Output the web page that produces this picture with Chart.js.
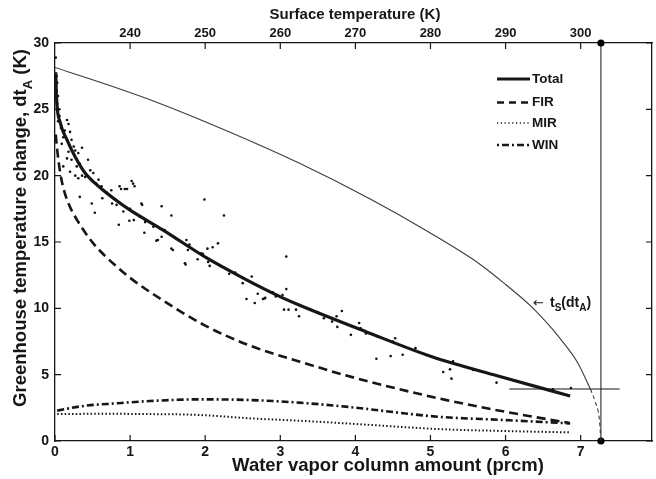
<!DOCTYPE html>
<html><head><meta charset="utf-8">
<script src="https://cdn.jsdelivr.net/npm/chart.js@4"></script>
<style>html,body{margin:0;padding:0;background:#fff}</style>
</head><body>
<canvas id="c" width="656" height="479"></canvas>
<script>
// ---------- data ----------
const xTickValues   = [0, 1, 2, 3, 4, 5, 6, 7];
const topTickValues = [240, 250, 260, 270, 280, 290, 300];
const yTickValues   = [0, 5, 10, 15, 20, 25, 30];
const TOP_AT_ZERO = 230;      // surface temperature at 0 prcm (top axis)
const TOP_PER_UNIT = 10;      // K per prcm on the top axis
const X_MIN = 0, X_MAX = 7.95, Y_MIN = 0, Y_MAX = 30;

// t_S(dt_A) curve (thin line) and its dashed end
const tsX = [0, 0.7, 1.37, 2.3, 3.25, 4.21, 4.93, 5.64, 6.0, 6.34, 6.63, 6.73, 6.96, 7.13];
const tsY = [28.15, 26.85, 25.5, 23.35, 20.95, 18.2, 15.9, 13.4, 11.8, 10.15, 8.4, 7.7, 5.9, 3.92];
const tsDashX = [7.13, 7.19, 7.25, 7.27];
const tsDashY = [3.92, 3.0, 1.6, 0];

// Total
const totX = [0.01, 0.02, 0.07, 0.16, 0.27, 0.4, 0.58, 0.8, 1.0, 1.44, 2.02, 2.5, 2.99, 3.25, 4.14, 5.02, 5.9, 6.86];
const totY = [27.8, 25.9, 24.0, 22.7, 21.4, 20.2, 19.2, 18.2, 17.4, 15.9, 13.8, 12.3, 10.9, 10.25, 8.24, 6.35, 4.9, 3.39];
// FIR
const firX = [0.01, 0.03, 0.07, 0.11, 0.18, 0.3, 0.51, 0.83, 1.0, 1.3, 2.0, 2.59, 3.25, 4.0, 5.2, 6.0, 6.85];
const firY = [23.1, 21.9, 20.2, 19.1, 17.9, 16.6, 14.9, 13.1, 12.3, 11.1, 8.7, 7.2, 6.0, 4.75, 3.1, 2.2, 1.36];
// MIR
const mirX = [0.03, 0.6, 1.26, 1.93, 2.59, 3.25, 3.87, 4.5, 5.1, 6.0, 6.86];
const mirY = [2.03, 2.05, 2.03, 1.96, 1.71, 1.53, 1.33, 1.1, 0.9, 0.75, 0.65];
// WIN
const winX = [0.03, 0.38, 0.82, 1.26, 1.93, 2.59, 3.25, 3.87, 5.1, 5.99, 6.86];
const winY = [2.29, 2.64, 2.84, 3.01, 3.14, 3.09, 2.89, 2.59, 1.83, 1.58, 1.33];

// scattered observations
const obsX = [0.01,0.02,0.03,0.02,0.04,0.03,0.05,0.06,0.04,0.08,
  0.16,0.18,0.13,0.2,0.11,0.22,0.09,0.25,0.27,0.18,0.31,0.36,0.16,0.11,0.22,0.2,0.29,0.33,0.27,0.36,
  0.31,0.4,0.44,0.47,0.51,0.55,0.58,0.62,0.33,0.49,0.53,0.69,0.75,0.8,0.86,0.93,1.04,1.06,1.15,1.0,
  0.91,0.82,0.63,0.76,0.85,0.99,0.96,0.88,1.02,1.16,1.42,1.55,1.99,2.25,1.05,1.13,1.19,1.31,1.37,1.42,
  1.46,1.55,1.57,1.75,1.79,1.77,1.95,1.9,2.04,2.06,1.74,2.1,2.17,2.32,2.5,2.62,2.5,3.08,3.08,2.7,
  2.94,2.55,2.79,2.66,2.77,3.05,3.11,3.21,3.25,3.58,3.69,3.75,3.82,3.76,3.94,4.05,4.07,4.14,4.53,4.28,
  4.47,4.63,5.17,5.26,5.28,5.57,5.88,6.63,6.87,1.35,1.73,1.97,2.03,2.8,3.03,1.2,1.6,2.2,2.4,2.9,
  3.4,3.5,4.3,4.5,4.8,5.3];
const obsY = [28.9,27.5,27.0,26.4,26.0,25.4,25.0,24.5,24.1,23.6,
  24.2,23.9,23.4,23.3,22.9,22.7,22.4,22.2,21.9,21.8,21.7,22.1,21.3,20.7,21.2,20.3,20.7,20.9,20.0,20.0,
  19.8,19.9,21.2,20.4,20.2,19.4,19.7,19.2,18.4,17.9,17.2,18.7,18.9,18.2,19.2,19.0,19.4,19.2,17.9,17.5,
  17.3,17.8,18.3,17.9,16.3,16.6,19.0,19.0,19.6,17.8,17.7,17.0,18.2,17.0,16.65,16.9,15.7,16.15,15.15,15.4,
  15.9,14.5,14.4,15.15,14.8,14.4,14.15,13.7,13.5,13.2,13.3,14.6,14.9,12.6,12.3,12.4,11.9,13.9,11.45,11.1,
  10.9,10.7,10.75,10.4,10.7,9.9,9.9,9.9,9.4,9.25,9.0,9.4,9.8,8.6,8.0,8.9,8.5,8.1,7.75,6.2,
  6.4,6.5,5.2,5.4,4.7,5.35,4.4,3.9,4.0,15.1,13.4,14.1,14.5,10.8,11.0,16.5,15.3,13.2,12.7,11.2,
  9.9,9.7,7.9,7.5,7.0,6.0];

// reference lines
const vLineX = [7.27, 7.27], vLineY = [0, 30];
const hLineX = [6.05, 7.52], hLineY = [3.92, 3.92];

// ---------- drawing ----------
const FONT = "'Liberation Sans', Arial, Helvetica, sans-serif";
const INK = '#161616';
const pts = (xs, ys) => xs.map((x, i) => ({x, y: ys[i]}));
const topFromX = v => TOP_AT_ZERO + TOP_PER_UNIT * v;

function drawRich(ctx, parts, x, y, size, align) {
  const big = `bold ${size}px ${FONT}`, small = `bold ${Math.round(size * 0.72)}px ${FONT}`;
  let w = 0;
  parts.forEach(p => { ctx.font = p.sub ? small : big; p.w = ctx.measureText(p.t).width; w += p.w; });
  let cx = align === 'center' ? x - w / 2 : x;
  parts.forEach(p => {
    ctx.font = p.sub ? small : big;
    ctx.fillText(p.t, cx, y + (p.sub ? size * 0.32 : 0));
    cx += p.w;
  });
}

const decor = {
  id: 'decor',
  afterDatasetsDraw(chart) {
    const {ctx, chartArea: a, scales} = chart;
    ctx.save();
    // inward tick marks
    ctx.strokeStyle = INK; ctx.lineWidth = 1.2; ctx.setLineDash([]);
    const L = 6;
    ctx.beginPath();
    xTickValues.forEach(v => { const p = scales.x.getPixelForValue(v); ctx.moveTo(p, a.bottom); ctx.lineTo(p, a.bottom - L); });
    topTickValues.forEach(v => { const p = scales.xTop.getPixelForValue(v); ctx.moveTo(p, a.top); ctx.lineTo(p, a.top + L); });
    yTickValues.forEach(v => { const p = scales.y.getPixelForValue(v); ctx.moveTo(a.left, p); ctx.lineTo(a.left + L, p); });
    yTickValues.forEach(v => { const p = scales.yRight.getPixelForValue(v); ctx.moveTo(a.right, p); ctx.lineTo(a.right - L, p); });
    ctx.stroke();

    // legend
    const lx0 = 497, lx1 = 530, tx = 532;
    const items = [
      {t: 'Total', y: 79, w: 3, dash: []},
      {t: 'FIR', y: 102.5, w: 2.5, dash: [7, 5]},
      {t: 'MIR', y: 123, w: 1.3, dash: [1.2, 2.6]},
      {t: 'WIN', y: 145, w: 2.5, dash: [2, 3, 7, 3]}
    ];
    ctx.fillStyle = INK; ctx.textBaseline = 'middle'; ctx.textAlign = 'left';
    ctx.font = `bold 13.5px ${FONT}`;
    items.forEach(it => {
      ctx.lineWidth = it.w; ctx.setLineDash(it.dash);
      ctx.beginPath(); ctx.moveTo(lx0, it.y); ctx.lineTo(lx1, it.y); ctx.stroke();
      ctx.fillText(it.t, tx, it.y);
    });
    ctx.setLineDash([]);

    // annotation  ← t_S(dt_A)
    ctx.textBaseline = 'alphabetic';
    ctx.font = `13px 'DejaVu Sans', ${FONT}`;
    ctx.fillText('\u2190', 533, 307);
    drawRich(ctx, [{t: 't'}, {t: 'S', sub: true}, {t: '(dt'}, {t: 'A', sub: true}, {t: ')'}], 550, 307, 14, 'left');

    // axis titles
    ctx.textAlign = 'center'; ctx.textBaseline = 'middle';
    ctx.font = `bold 15px ${FONT}`;
    ctx.fillText('Surface temperature (K)', 355, 15);
    ctx.font = `bold 18.5px ${FONT}`;
    ctx.fillText('Water vapor column amount (prcm)', 388, 466);
    ctx.textAlign = 'left'; ctx.textBaseline = 'alphabetic';
    ctx.translate(26, 228); ctx.rotate(-Math.PI / 2);
    drawRich(ctx, [{t: 'Greenhouse temperature change, dt'}, {t: 'A', sub: true}, {t: ' (K)'}], 0, 0, 18.5, 'center');
    ctx.restore();
  }
};

const tickFont = {family: FONT, size: 14, weight: 'bold'};
const lineDs = (xs, ys, extra) => Object.assign({
  data: pts(xs, ys), showLine: true, fill: false, pointRadius: 0, borderColor: INK,
  cubicInterpolationMode: 'monotone', xAxisID: 'x', yAxisID: 'y'
}, extra);

new Chart(document.getElementById('c'), {
  type: 'scatter',
  data: {
    datasets: [
      lineDs(tsX, tsY, {borderWidth: 1.1, borderColor: '#3c3c3c'}),
      lineDs(tsDashX, tsDashY, {borderWidth: 1.1, borderColor: '#3c3c3c', borderDash: [4, 3]}),
      lineDs(mirX, mirY, {borderWidth: 2, borderDash: [1.5, 2.2]}),
      lineDs(winX, winY, {borderWidth: 2.6, borderDash: [7, 3, 2, 3]}),
      lineDs(firX, firY, {borderWidth: 2.6, borderDash: [9, 5]}),
      {data: pts(obsX, obsY), showLine: false, pointRadius: 1.3, pointBorderWidth: 0,
       pointBackgroundColor: '#111', xAxisID: 'x', yAxisID: 'y'},
      lineDs(totX, totY, {borderWidth: 3.2}),
      lineDs(hLineX, hLineY, {borderWidth: 1, cubicInterpolationMode: 'default', tension: 0, clip: false}),
      lineDs(vLineX, vLineY, {borderWidth: 1, cubicInterpolationMode: 'default', tension: 0, clip: false,
        pointRadius: 3.6, pointBackgroundColor: '#000', pointBorderWidth: 0})
    ]
  },
  options: {
    responsive: false, animation: false, devicePixelRatio: 1,
    layout: {padding: 0},
    plugins: {legend: {display: false}, tooltip: {enabled: false}},
    scales: {
      x: {type: 'linear', position: 'bottom', min: X_MIN, max: X_MAX,
          afterBuildTicks: s => { s.ticks = xTickValues.map(v => ({value: v})); },
          ticks: {font: tickFont, color: INK, padding: 3, maxRotation: 0, autoSkip: false},
          grid: {display: false, drawTicks: false}, border: {display: true, color: INK, width: 1.3},
          afterFit: s => { s.height = 38; }},
      xTop: {type: 'linear', position: 'top', min: topFromX(X_MIN), max: topFromX(X_MAX),
          afterBuildTicks: s => { s.ticks = topTickValues.map(v => ({value: v})); },
          ticks: {font: {family: FONT, size: 13, weight: 'bold'}, color: INK, padding: 2, maxRotation: 0, autoSkip: false},
          grid: {display: false, drawTicks: false}, border: {display: true, color: INK, width: 1.3},
          afterFit: s => { s.height = 43; }},
      y: {type: 'linear', position: 'left', min: Y_MIN, max: Y_MAX,
          afterBuildTicks: s => { s.ticks = yTickValues.map(v => ({value: v})); },
          ticks: {font: tickFont, color: INK, padding: 6, autoSkip: false},
          grid: {display: false, drawTicks: false}, border: {display: true, color: INK, width: 1.3},
          afterFit: s => { s.width = 55; }},
      yRight: {type: 'linear', position: 'right', min: Y_MIN, max: Y_MAX,
          ticks: {display: false},
          grid: {display: false, drawTicks: false}, border: {display: true, color: INK, width: 1.3},
          afterFit: s => { s.width = 1; }}
    }
  },
  plugins: [decor]
});
</script>
</body></html>
